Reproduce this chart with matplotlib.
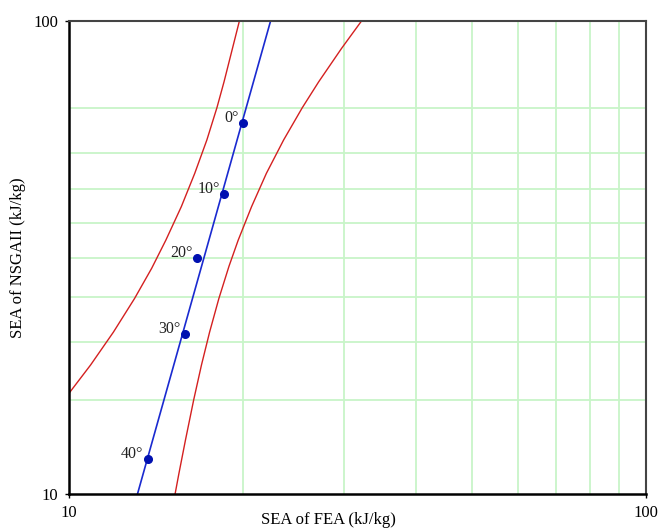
import numpy as np
import matplotlib
matplotlib.use("Agg")
import matplotlib.pyplot as plt

plt.rcParams["font.family"] = ["Liberation Serif", "DejaVu Serif"]

# measured points (SEA of FEA, SEA of NSGAII)
angles = ["0°", "10°", "20°", "30°", "40°"]
sea_fea = [20.0, 18.57, 16.65, 15.87, 13.69]
sea_nsga = [60.9, 43.1, 31.5, 21.8, 11.86]

# fitted line
fit_x = [13.14, 22.37]
fit_y = [10, 100]

# confidence bands
lower_x = [10.0, 10.90, 11.94, 12.99, 13.91, 14.72, 15.66, 16.52, 17.34, 18.05, 18.57, 19.75]
lower_y = [16.34, 18.75, 22.0, 25.9, 30.0, 34.4, 40.5, 47.6, 56.0, 65.5, 74.3, 100]
upper_x = [15.27, 15.51, 15.92, 16.45, 16.97, 17.53, 18.19, 18.94, 19.65, 20.73, 21.99,
           23.56, 25.38, 27.10, 29.69, 32.18]
upper_y = [10, 11.07, 13.02, 15.82, 18.75, 22.0, 25.9, 30.3, 34.4, 40.5, 47.6,
           56.0, 65.5, 74.3, 87.4, 100]

# grid positions
grid_x = [20, 30, 40, 50, 60, 70, 80, 90]
grid_y = [15.8, 21.0, 26.1, 31.6, 37.4, 44.1, 52.6, 65.5]

fig = plt.figure(figsize=(6.61, 5.30), dpi=100)
ax = fig.add_axes([0.1044, 0.0674, 0.8725, 0.8936])
ax.set_xscale("log")
ax.set_yscale("log")
ax.set_xlim(10, 100)
ax.set_ylim(10, 100)

for gx in grid_x:
    ax.axvline(gx, color="#c8f5c8", lw=1.3, zorder=0)
for gy in grid_y:
    ax.axhline(gy, color="#c8f5c8", lw=1.3, zorder=0)

ax.plot(lower_x, lower_y, color="#d42020", lw=1.0)
ax.plot(upper_x, upper_y, color="#d42020", lw=1.0)
ax.plot(fit_x, fit_y, color="#1a2ad0", lw=1.2)
ax.plot(sea_fea, sea_nsga, "o", color="#0010b0", ms=5.5, ls="none")

for a, x, y in zip(angles, sea_fea, sea_nsga):
    ax.annotate(a, (x, y), xytext=(-3, 3.5), textcoords="offset points",
                ha="right", va="center", fontsize=11.5, color="#222222")

ax.set_xticks([10, 100])
ax.set_yticks([10, 100])
ax.set_xticklabels(["10", "100"])
ax.set_yticklabels(["10", "100"])
ax.minorticks_off()
ax.tick_params(length=3, width=1, labelsize=12, pad=5)

for s in ["left", "bottom"]:
    ax.spines[s].set_linewidth(1.8)
    ax.spines[s].set_color("black")
for s in ["top", "right"]:
    ax.spines[s].set_linewidth(1.5)
    ax.spines[s].set_color("#444444")

fig.text(328 / 661, 1 - 520 / 530, "SEA of FEA (kJ/kg)", ha="center", va="center", fontsize=12)
fig.text(18 / 661, 1 - 258 / 530, "SEA of NSGAII (kJ/kg)", ha="center", va="center",
         rotation=90, fontsize=12)

fig.savefig("out.png", dpi=100)
